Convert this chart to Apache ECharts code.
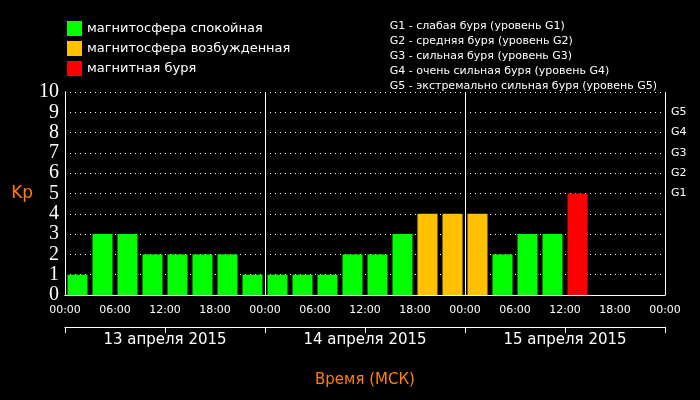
<!DOCTYPE html><html><head><meta charset="utf-8">
<script src="https://cdn.jsdelivr.net/npm/echarts@6/dist/echarts.min.js"></script>
<style>html,body{margin:0;background:#000}#c{width:700px;height:400px}</style></head><body><div id="c"></div><script>
const kp=[1,3,3,2,2,2,2,1, 1,1,1,2,2,3,4,4, 4,2,3,3,5];
const timeLabels=['00:00','06:00','12:00','18:00','00:00','06:00','12:00','18:00','00:00','06:00','12:00','18:00','00:00'];
const dayLabels=['13 апреля 2015','14 апреля 2015','15 апреля 2015'];
const gLabels={5:'G1',6:'G2',7:'G3',8:'G4',9:'G5'};
const names=['магнитосфера спокойная','магнитосфера возбужденная','магнитная буря'];
const colors=['#00ff00','#ffc000','#ff0000'];
const gText='G1 - слабая буря (уровень G1)\nG2 - средняя буря (уровень G2)\nG3 - сильная буря (уровень G3)\nG4 - очень сильная буря (уровень G4)\nG5 - экстремально сильная буря (уровень G5)';
function cls(v){return v>=5?2:(v>=4?1:0);}
const series=names.map((n,k)=>({name:n,type:'bar',barWidth:20,barGap:'-100%',itemStyle:{color:colors[k]},
 data:kp.map((v,i)=>cls(v)===k?[1.5+3*i,v]:null).filter(Boolean)}));
const f='DejaVu Sans';
const c=echarts.init(document.getElementById('c'));
c.setOption({backgroundColor:'#000',animation:false,
 title:{text:gText,right:38,top:14,textStyle:{color:'#fff',fontSize:11,fontWeight:'normal',fontFamily:f,lineHeight:15}},
 legend:{orient:'vertical',left:62,top:16,itemWidth:15,itemHeight:15,itemGap:5,icon:'rect',textStyle:{color:'#fff',fontSize:13,fontFamily:f},data:names},
 grid:{left:65,right:35,top:92,bottom:105},
 xAxis:[{type:'value',min:0,max:72,interval:6,axisLine:{lineStyle:{color:'#fff'}},axisTick:{show:false},splitLine:{show:false},
   axisLabel:{color:'#fff',fontFamily:f,fontSize:11,margin:10,formatter:(v)=>timeLabels[v/6]}},
  {type:'value',min:0,max:72,interval:24,position:'top',axisLine:{lineStyle:{color:'#fff'}},axisTick:{show:false},axisLabel:{show:false},
   splitLine:{show:true,lineStyle:{color:'#fff',width:1}}},
  {type:'value',min:0,max:72,interval:12,position:'bottom',offset:32,gridIndex:0,axisLine:{lineStyle:{color:'#fff'}},
   axisTick:{show:true,inside:false,length:6,interval:0,lineStyle:{color:'#fff'}},splitLine:{show:false},
   axisLabel:{color:'#fff',fontFamily:f,fontSize:15,margin:6,formatter:(v)=>(v/12)%2===1?dayLabels[(v-12)/24]:''},
   name:'Время (МСК)',nameLocation:'middle',nameGap:46,nameTextStyle:{color:'#ff8000',fontFamily:f,fontSize:15}}],
 yAxis:[{type:'value',min:0,max:10,interval:1,axisLine:{show:true,lineStyle:{color:'#fff'}},axisTick:{show:false},
   axisLabel:{color:'#fff',fontFamily:'Liberation Serif',fontSize:20,margin:6},
   splitLine:{show:true,lineStyle:{color:'#fff',type:[1,4]}},
   name:'Kp',nameLocation:'middle',nameGap:30,nameRotate:0,nameTextStyle:{color:'#ff8000',fontFamily:f,fontSize:17}},
  {type:'value',min:0,max:10,interval:1,position:'right',axisLine:{show:true,lineStyle:{color:'#fff'}},axisTick:{show:false},splitLine:{show:false},
   axisLabel:{color:'#fff',fontFamily:f,fontSize:11,margin:6,formatter:(v)=>gLabels[v]||''}}],
 series:series});
</script></body></html>
